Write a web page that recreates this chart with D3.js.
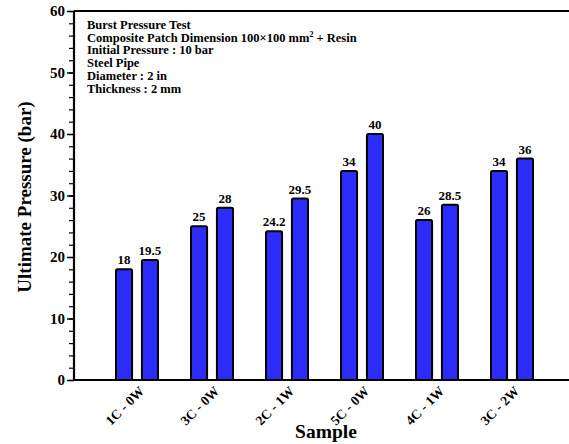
<!DOCTYPE html>
<html>
<head>
<meta charset="utf-8">
<script src="https://cdn.jsdelivr.net/npm/d3@7"></script>
<style>
  body { margin: 0; background: #fff; }
  text { font-family: "Liberation Serif", "Times New Roman", serif; font-weight: bold; }
</style>
</head>
<body>
<svg id="chart" width="569" height="444"></svg>
<script>
// Chart data
const samples = ["1C - 0W", "3C - 0W", "2C - 1W", "5C - 0W", "4C - 1W", "3C - 2W"];
const firstBar = [18, 25, 24.2, 34, 26, 34];
const secondBar = [19.5, 28, 29.5, 40, 28.5, 36];
const yTicks = [0, 10, 20, 30, 40, 50, 60];
const infoLines = [
  "Burst Pressure Test",
  "Composite Patch Dimension 100×100 mm",
  "Initial Pressure : 10 bar",
  "Steel Pipe",
  "Diameter : 2 in",
  "Thickness : 2 mm"
];

const svg = d3.select("#chart");
const plotLeft = 74, plotRight = 569, plotTop = 11, plotBottom = 380;

// Scales
const y = d3.scaleLinear().domain([0, 60]).range([plotBottom, plotTop]);
const x = d3.scaleBand().domain(samples).range([99.5, 549.5]);
const inner = d3.scaleBand().domain([0, 1]).range([0, 42]).paddingInner(0.38);

// y axis: minor ticks every 2, major every 10
svg.append("g")
  .attr("transform", `translate(${plotLeft},0)`)
  .call(d3.axisLeft(y).tickValues(d3.range(0, 61, 2)).tickSize(5).tickFormat(""))
  .call(g => g.select(".domain").remove())
  .call(g => g.selectAll("line").attr("stroke", "#000").attr("stroke-width", 1.2));

svg.append("g")
  .attr("transform", `translate(${plotLeft},0)`)
  .call(d3.axisLeft(y).tickValues(yTicks).tickSize(7).tickPadding(2))
  .call(g => g.select(".domain").remove())
  .call(g => g.selectAll("line").attr("stroke", "#000").attr("stroke-width", 1.5))
  .call(g => g.selectAll("text")
    .attr("font-size", 15).attr("font-family", "Liberation Serif")
    .attr("font-weight", "bold").attr("fill", "#000"));

// frame lines: left, top
svg.append("line").attr("x1", plotLeft).attr("x2", plotLeft).attr("y1", plotTop).attr("y2", plotBottom)
  .attr("stroke", "#000").attr("stroke-width", 2.2);
svg.append("line").attr("x1", plotLeft).attr("x2", plotRight).attr("y1", plotTop).attr("y2", plotTop)
  .attr("stroke", "#000").attr("stroke-width", 2.2);

// bars
const groups = svg.selectAll("g.sample")
  .data(samples.map((s, i) => ({ s, vals: [firstBar[i], secondBar[i]] })))
  .enter().append("g")
  .attr("class", "sample")
  .attr("transform", d => `translate(${x(d.s) + x.bandwidth() / 2 - 21},0)`);

groups.selectAll("rect")
  .data(d => d.vals.map((v, k) => ({ v, k })))
  .enter().append("rect")
  .attr("x", d => inner(d.k))
  .attr("width", inner.bandwidth())
  .attr("y", d => y(d.v))
  .attr("height", d => y(0) - y(d.v))
  .attr("rx", 1.5)
  .attr("fill", "#2b2bfa")
  .attr("stroke", "#000")
  .attr("stroke-width", 2);

groups.selectAll("text")
  .data(d => d.vals.map((v, k) => ({ v, k })))
  .enter().append("text")
  .attr("x", d => inner(d.k) + inner.bandwidth() / 2)
  .attr("y", d => y(d.v) - 5)
  .attr("text-anchor", "middle")
  .attr("font-size", 13)
  .text(d => d.v);

// x axis
svg.append("g")
  .attr("transform", `translate(0,${plotBottom})`)
  .call(d3.axisBottom(x).tickSize(0).tickPadding(0))
  .call(g => g.select(".domain").remove())
  .call(g => g.selectAll("text")
    .attr("font-size", 13.5).attr("font-family", "Liberation Serif")
    .attr("font-weight", "bold").attr("fill", "#000")
    .attr("text-anchor", "end")
    .attr("dy", 0)
    .attr("transform", "translate(8,12) rotate(-45)"));

svg.append("line").attr("x1", plotLeft).attr("x2", plotRight).attr("y1", plotBottom).attr("y2", plotBottom)
  .attr("stroke", "#000").attr("stroke-width", 2.2);

// axis titles
svg.append("text")
  .attr("x", 326).attr("y", 438)
  .attr("text-anchor", "middle")
  .attr("font-size", 19.5)
  .text("Sample");

svg.append("text")
  .attr("transform", "translate(31,197) rotate(-90)")
  .attr("text-anchor", "middle")
  .attr("font-size", 19)
  .text("Ultimate Pressure (bar)");

// info block
const info = svg.append("text").attr("font-size", 12.5);
infoLines.forEach((line, i) => {
  info.append("tspan").attr("x", 87).attr("y", 29 + i * 12.7).text(line);
  if (i === 1) {
    info.append("tspan").attr("dy", -5).attr("font-size", 8).text("2");
    info.append("tspan").attr("dy", 5).text(" + Resin");
  }
});
</script>
</body>
</html>
